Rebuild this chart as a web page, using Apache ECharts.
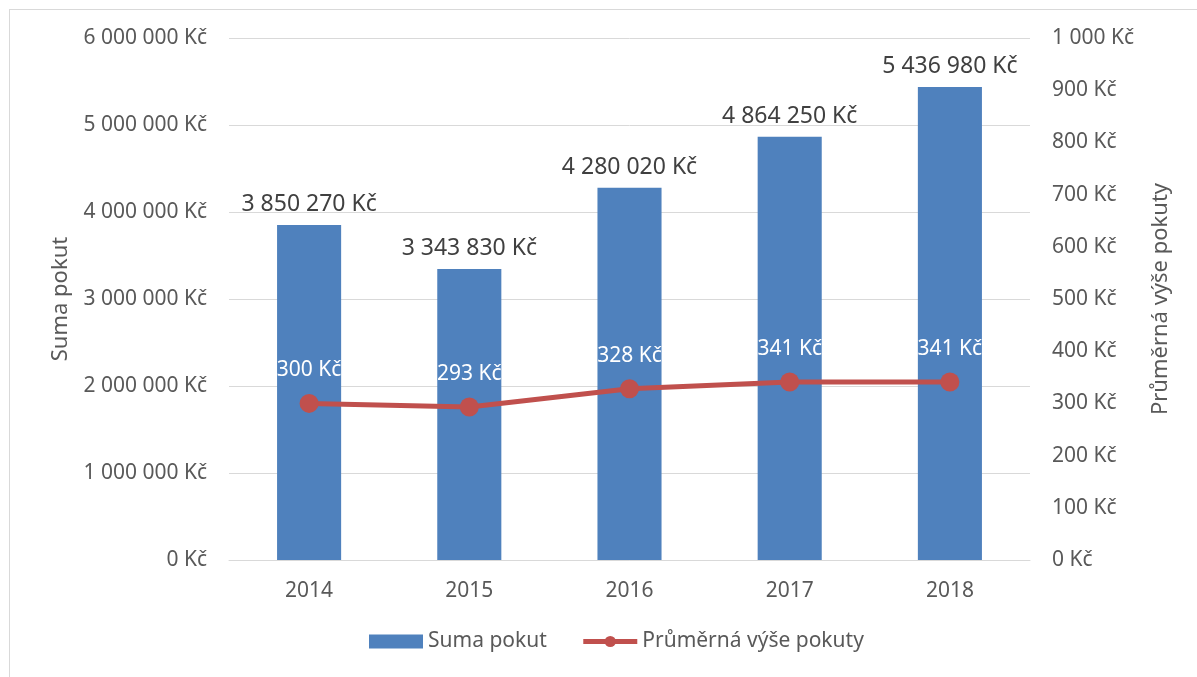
<!DOCTYPE html>
<html>
<head>
<meta charset="utf-8">
<script src="https://cdn.jsdelivr.net/npm/echarts@6/dist/echarts.min.js"></script>
<style>
html,body{margin:0;padding:0;background:#fff;}
#frame{position:absolute;left:9px;top:9px;width:1400px;height:900px;border:1px solid #d9d9d9;box-sizing:border-box;}
#mychart{position:absolute;left:0;top:0;width:1197px;height:677px;}
</style>
</head>
<body>
<div id="frame"></div>
<div id="mychart"></div>
<script>
var years = ['2014', '2015', '2016', '2017', '2018'];
var sumaPokut = [3850270, 3343830, 4280020, 4864250, 5436980];
var prumerPokuty = [300, 293, 328, 341, 341];

// ticks: 0 Kč .. 6 000 000 Kč / 0 Kč .. 1 000 Kč
function fmtKc(v){
	return String(Math.round(v)).replace(/\B(?=(\d{3})+(?!\d))/g, ' ') + ' Kč';
}

var myChart = echarts.init(document.getElementById('mychart'));
var font = '"Noto Sans", sans-serif';
var option = {
	animation:false,
	textStyle:{fontFamily:font},
	grid:{
		left:229,
		right:167,
		top:38,
		bottom:117
	},
	legend:{
		bottom:20,
		left:364,
		itemWidth:54,
		itemHeight:14,
		itemGap:34,
		textStyle:{fontFamily:font,fontSize:21,color:'#595959'},
		data:[
			{name:'Suma pokut',icon:'rect',itemStyle:{borderRadius:0}},
			{name:'Průměrná výše pokuty',lineStyle:{width:5}}
		]
	},
	xAxis:[{
		type:'category',
		data:years,
		axisTick:{show:false},
		axisLine:{lineStyle:{color:'#d9d9d9',width:1}},
		axisLabel:{fontSize:21,color:'#595959',margin:21}
	}],
	yAxis:[{
		type:'value',
		min:0, max:6000000, interval:1000000,
		name:'Suma pokut',
		nameLocation:'middle',
		nameGap:157,
		nameTextStyle:{fontSize:22,color:'#595959'},
		axisLine:{show:false},
		axisTick:{show:false},
		splitLine:{lineStyle:{color:'#d9d9d9',width:1}},
		axisLabel:{fontSize:21,color:'#595959',margin:22,formatter:fmtKc}
	},{
		type:'value',
		min:0, max:1000, interval:100,
		name:'Průměrná výše pokuty',
		nameLocation:'middle',
		nameGap:120,
		nameRotate:90,
		nameTextStyle:{fontSize:22,color:'#595959'},
		axisLine:{show:false},
		axisTick:{show:false},
		splitLine:{show:false},
		axisLabel:{fontSize:21,color:'#595959',margin:22,formatter:fmtKc}
	}],
	series:[{
		name:'Suma pokut',
		type:'bar',
		yAxisIndex:0,
		barWidth:'40%',
		data:sumaPokut,
		itemStyle:{color:'#4F81BD'},
		label:{
			show:true,
			position:'top',
			distance:9,
			fontSize:23,
			color:'#404040',
			formatter:function(p){return fmtKc(p.value);}
		}
	},{
		name:'Průměrná výše pokuty',
		type:'line',
		yAxisIndex:1,
		data:prumerPokuty,
		symbol:'circle',
		symbolSize:19,
		lineStyle:{color:'#C0504D',width:5},
		itemStyle:{color:'#C0504D'},
		label:{
			show:true,
			position:'top',
			distance:13,
			fontSize:21,
			color:'#ffffff',
			formatter:function(p){return fmtKc(p.value);}
		},
		z:5
	}]
};
myChart.setOption(option, true);
</script>
</body>
</html>
